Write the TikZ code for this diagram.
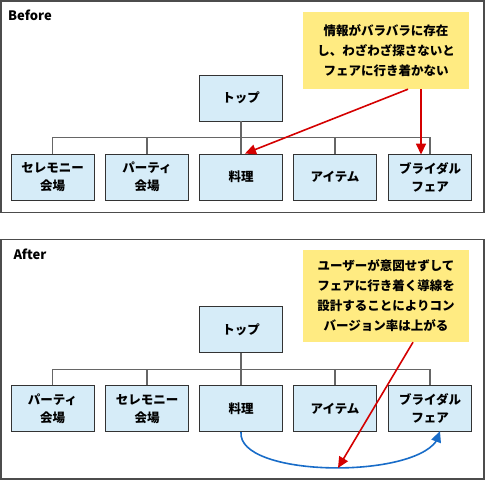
\documentclass[tikz,border=0pt]{standalone}
\usepackage{fontspec}
\setmainfont{Noto Sans CJK JP}
\usepackage{tikz}
\usetikzlibrary{arrows.meta,bending}

\definecolor{boxblue}{RGB}{214,236,248}
\definecolor{noteyellow}{RGB}{255,235,130}
\definecolor{arrowred}{RGB}{212,0,0}
\definecolor{flowblue}{RGB}{24,108,200}

\begin{document}
\begin{tikzpicture}[
            x=1pt, y=-1pt,
            panel/.style={draw=black!70, line width=1.2pt},
            title/.style={font=\bfseries\fontsize{13}{15}\selectfont, inner sep=0pt},
            box/.style={rectangle, draw=black!80, fill=boxblue, line width=0.9pt,
                minimum width=83pt, minimum height=46pt, inner sep=0pt, align=center,
                font=\bfseries\fontsize{12.5}{18}\selectfont},
            note/.style={rectangle, fill=noteyellow, inner sep=0pt, align=center,
                minimum width=166pt, font=\bfseries\fontsize{12.5}{20}\selectfont},
            link/.style={draw=black!60, line width=1.2pt},
            hint/.style={draw=arrowred, line width=1.6pt,
                -{Triangle[length=11pt,width=10pt]}},
            flow/.style={draw=flowblue, line width=1.6pt,
                -{Triangle[length=11pt,width=10pt,flex]}}
        ]
        \useasboundingbox (0,0) rectangle (486,481);
        % Before
        \draw[panel] (1,1) rectangle (484,212.5);
        \node[title] (tbefore) at (30,15) {Before};
        \node[box] (btop)  at (241,98)  {トップ};
        \node[box] (bcer)  at (52.5,177) {セレモニー\\会場};
        \node[box] (bpar)  at (147,177) {パーティ\\会場};
        \node[box] (bfood) at (241,177) {料理};
        \node[box] (bitem) at (335,177) {アイテム};
        \node[box] (bfair) at (430,177) {ブライダル\\フェア};
        \coordinate (bbus) at (241,137.7);
        \draw[link] (btop.south) -- (bfood.north);
        \draw[link] (bcer.north) -- (bcer.north |- bbus) -- (bfair.north |- bbus) -- (bfair.north);
        \draw[link] (bpar.north) -- (bpar.north |- bbus);
        \draw[link] (bitem.north) -- (bitem.north |- bbus);
        \node[note, minimum height=77pt] (bnote) at (386,50.5)
            {情報がバラバラに存在\\し、わざわざ探さないと\\フェアに行き着かない};
        \draw[hint] ([xshift=22pt]bnote.south) -- ([xshift=4pt]bfood.north);
        \draw[hint] ([xshift=35pt]bnote.south) -- ([xshift=-9pt,yshift=-1pt]bfair.north);

        % After
        \draw[panel] (1,239.5) rectangle (484,479);
        \node[title] (tafter) at (30,254.5) {After};
        \node[box] (atop)  at (241,329.5) {トップ};
        \node[box] (apar)  at (52.5,408.7) {パーティ\\会場};
        \node[box] (acer)  at (147,408.7) {セレモニー\\会場};
        \node[box] (afood) at (241,408.7) {料理};
        \node[box] (aitem) at (335,408.7) {アイテム};
        \node[box] (afair) at (430,408.7) {ブライダル\\フェア};
        \coordinate (abus) at (241,369.7);
        \draw[link] (atop.south) -- (afood.north);
        \draw[link] (apar.north) -- (apar.north |- abus) -- (afair.north |- abus) -- (afair.north);
        \draw[link] (acer.north) -- (acer.north |- abus);
        \draw[link] (aitem.north) -- (aitem.north |- abus);
        \node[note, minimum height=92pt] (anote) at (386,296)
            {ユーザーが意図せずして\\フェアに行き着く導線を\\設計することによりコン\\バージョン率は上がる};
        \coordinate (alow) at (338,468);
        \draw[flow] (afood.south) .. controls (237,480) and (437,480) .. ([xshift=10pt,yshift=1pt]afair.south);
        \draw[hint] ([xshift=27pt]anote.south) -- (alow);
    \end{tikzpicture}
\end{document}
